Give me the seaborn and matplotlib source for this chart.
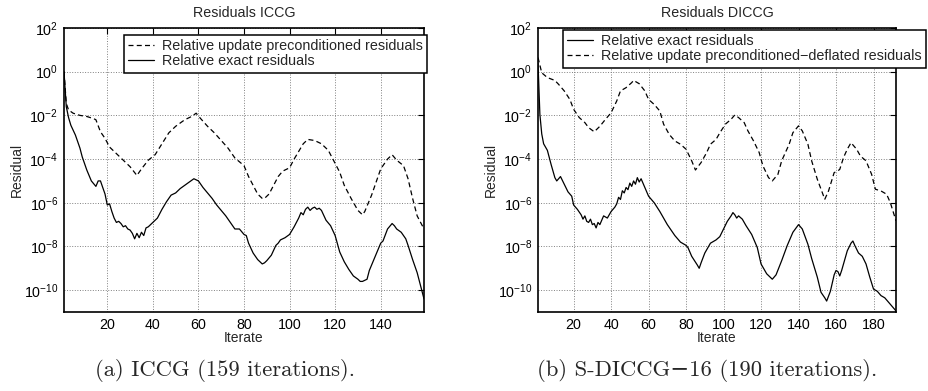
import numpy as np
import pandas as pd
import matplotlib
matplotlib.use("Agg")
import matplotlib.pyplot as plt
import seaborn as sns
from matplotlib.ticker import FixedLocator, NullLocator

# ---------------- data (log10 of residual) ----------------
iccg_exact_it = [1, 2, 3, 4, 6, 8, 9, 11, 13, 15, 16, 17, 19, 20, 21, 22, 23, 24, 25, 26, 27, 28, 29, 30,
                 31, 32, 33, 34, 35, 36, 37, 38, 40, 42, 44, 46, 48, 50, 52, 54, 56, 58, 60, 62, 64,
                 66, 68, 70, 72, 74, 76, 78, 80, 81, 82, 84, 86, 88, 89, 90, 92, 94, 95, 96, 98, 100,
                 102, 104, 105, 106, 107, 108, 109, 110, 111, 112, 113, 114, 116, 118, 120, 122, 124,
                 126, 128, 130, 131, 132, 133, 134, 135, 137, 139, 140, 141, 143, 145, 146, 147, 149,
                 151, 152, 154, 156, 157, 159]
iccg_exact_log = [0.0, -1.6, -2.1, -2.45, -2.9, -3.5, -3.9, -4.5, -5.0, -5.25, -5.0, -5.0, -5.6, -6.1,
                  -6.05, -6.4, -6.7, -6.9, -6.85, -6.95, -7.1, -7.05, -7.2, -7.25, -7.4, -7.65, -7.4,
                  -7.6, -7.35, -7.5, -7.15, -7.1, -6.9, -6.7, -6.3, -5.95, -5.65, -5.55, -5.35, -5.2,
                  -5.05, -4.9, -5.0, -5.3, -5.55, -5.8, -6.1, -6.35, -6.6, -6.9, -7.2, -7.2, -7.45,
                  -7.5, -7.85, -8.3, -8.6, -8.8, -8.75, -8.65, -8.4, -7.95, -7.85, -7.7, -7.6, -7.45,
                  -7.1, -6.7, -6.45, -6.55, -6.3, -6.2, -6.35, -6.25, -6.2, -6.3, -6.25, -6.35, -6.8,
                  -7.05, -7.5, -8.25, -8.7, -9.05, -9.35, -9.5, -9.6, -9.6, -9.55, -9.5, -9.1, -8.6,
                  -8.1, -7.85, -7.75, -7.2, -6.95, -7.05, -7.2, -7.35, -7.65, -7.95, -8.6, -9.2, -9.6,
                  -10.4]

iccg_update_it = [1, 2, 3, 5, 8, 11, 14, 15, 17, 19, 21, 24, 27, 30, 33, 35, 38, 41, 44, 47, 50, 54,
                  57, 59, 61, 64, 67, 70, 73, 76, 80, 82, 84, 86, 88, 89, 91, 93, 95, 97, 100, 102,
                  104, 106, 108, 111, 114, 117, 119, 122, 124, 127, 130, 132, 133, 136, 138, 140, 143,
                  145, 147, 150, 152, 154, 156, 159]
iccg_update_log = [0.0, -1.45, -1.75, -1.9, -2.0, -2.05, -2.15, -2.2, -2.75, -3.05, -3.45, -3.75, -4.05,
                   -4.35, -4.75, -4.45, -4.05, -3.8, -3.3, -2.8, -2.5, -2.2, -2.05, -1.9, -2.15, -2.5,
                   -2.8, -3.15, -3.5, -3.95, -4.3, -4.8, -5.2, -5.6, -5.8, -5.8, -5.6, -5.2, -4.8,
                   -4.55, -4.4, -4.0, -3.65, -3.3, -3.1, -3.15, -3.3, -3.6, -4.0, -4.6, -5.2, -5.8,
                   -6.35, -6.55, -6.4, -5.65, -5.05, -4.45, -4.0, -3.8, -4.05, -4.3, -4.9, -5.8, -6.6,
                   -7.2]

diccg_exact_it = [1, 2, 3, 4, 6, 8, 10, 11, 13, 15, 17, 19, 20, 22, 24, 25, 26, 27, 28, 29, 30, 31, 32,
                  33, 34, 36, 38, 40, 42, 43, 44, 45, 46, 47, 48, 49, 50, 51, 52, 53, 54, 55, 56, 58,
                  60, 63, 66, 70, 74, 77, 80, 81, 83, 86, 87, 88, 90, 93, 96, 98, 100, 102, 104, 105,
                  106, 107, 108, 110, 112, 115, 118, 120, 123, 126, 128, 131, 134, 137, 140, 142, 145,
                  147, 150, 152, 154, 155, 157, 159, 160, 161, 162, 163, 164, 166, 168, 169, 170, 172,
                  174, 176, 178, 180, 182, 184, 186, 188, 190, 192]
diccg_exact_log = [0.4, -1.95, -2.85, -3.3, -3.6, -4.25, -4.85, -5.0, -4.8, -5.15, -5.5, -5.7, -6.1,
                   -6.3, -6.55, -6.75, -6.6, -6.85, -6.9, -6.75, -7.0, -6.95, -7.15, -6.9, -7.0, -6.6,
                   -6.7, -6.4, -6.2, -6.05, -5.75, -5.85, -5.45, -5.55, -5.3, -5.4, -5.1, -5.25, -5.0,
                   -5.15, -4.85, -5.05, -4.9, -5.3, -5.7, -6.0, -6.4, -7.0, -7.5, -7.8, -7.95, -8.05,
                   -8.45, -8.85, -9.0, -8.75, -8.3, -7.85, -7.7, -7.55, -7.2, -6.85, -6.6, -6.45,
                   -6.55, -6.7, -6.6, -6.75, -7.05, -7.45, -8.05, -8.8, -9.25, -9.5, -9.3, -8.65, -7.95,
                   -7.35, -7.0, -7.2, -7.9, -8.55, -9.4, -10.1, -10.35, -10.5, -10.05, -9.3, -9.1, -9.15,
                   -9.35, -9.1, -8.8, -8.2, -7.85, -7.75, -7.95, -8.3, -8.45, -8.8, -9.4, -9.95, -10.05,
                   -10.25, -10.35, -10.55, -10.75, -10.95]

diccg_update_it = [1, 3, 6, 10, 12, 15, 18, 20, 23, 26, 28, 31, 34, 37, 40, 43, 45, 48, 51, 52, 55, 58,
                   60, 63, 66, 68, 71, 74, 77, 80, 83, 85, 88, 91, 93, 96, 98, 101, 104, 106, 108, 111,
                   113, 116, 119, 121, 124, 126, 129, 131, 135, 137, 140, 142, 145, 147, 150, 153, 154,
                   156, 159, 161, 162, 164, 166, 168, 171, 173, 176, 179, 181, 184, 187, 189, 192]
diccg_update_log = [0.65, -0.05, -0.27, -0.4, -0.58, -0.88, -1.27, -1.72, -2.1, -2.33, -2.56, -2.75,
                    -2.5, -2.18, -1.88, -1.34, -0.88, -0.73, -0.5, -0.4, -0.55, -0.88, -1.27, -1.5, -1.8,
                    -2.4, -2.87, -3.17, -3.32, -3.55, -4.08, -4.5, -4.16, -3.7, -3.32, -3.1, -2.8, -2.4,
                    -2.18, -1.98, -2.1, -2.33, -2.71, -3.17, -3.7, -4.31, -4.85, -5.0, -4.7, -4.08,
                    -3.32, -2.79, -2.48, -2.71, -3.32, -4.08, -4.92, -5.61, -5.84, -5.46, -4.62, -4.54,
                    -4.47, -3.93, -3.55, -3.25, -3.55, -3.86, -4.08, -4.7, -5.38, -5.46, -5.61, -6.0,
                    -6.83]

titles = ["Residuals ICCG", "Residuals DICCG"]
captions = ["(a) ICCG (159 iterations).", "(b) S-DICCG\u221216 (190 iterations)."]
legend_left = ["Relative update preconditioned residuals", "Relative exact residuals"]
legend_right = ["Relative exact residuals", "Relative update preconditioned\u2212deflated residuals"]
xlims = [(1, 159), (1, 192)]
xticks = [[20, 40, 60, 80, 100, 120, 140], [20, 40, 60, 80, 100, 120, 140, 160, 180]]
yticks = [1e2, 1e0, 1e-2, 1e-4, 1e-6, 1e-8, 1e-10]

# ---------------- style ----------------
sns.set_theme(style="white")
plt.rcParams['font.family'] = ['Liberation Sans', 'DejaVu Sans']
plt.rcParams['mathtext.fontset'] = 'custom'
plt.rcParams['mathtext.rm'] = 'Liberation Sans'
plt.rcParams['mathtext.it'] = 'Liberation Sans:italic'
plt.rcParams['mathtext.bf'] = 'Liberation Sans:bold'

fig = plt.figure(figsize=(9.29, 3.91), dpi=100)
W, H = 929, 391
ax1 = fig.add_axes([64 / W, 1 - 312 / H, 360 / W, 284 / H])
ax2 = fig.add_axes([538 / W, 1 - 312 / H, 358 / W, 284 / H])

DASH = (0, (4, 2.6))
LW = 0.9

def draw(ax, it, lg, style, label):
    df = pd.DataFrame({"Iterate": it, "Residual": np.power(10.0, lg)})
    sns.lineplot(data=df, x="Iterate", y="Residual", ax=ax, color="black", lw=LW,
                 linestyle=style, estimator=None, sort=False, label=label)
    return ax.lines[-1]

l_upd1 = draw(ax1, iccg_update_it, iccg_update_log, DASH, legend_left[0])
l_ex1 = draw(ax1, iccg_exact_it, iccg_exact_log, "-", legend_left[1])
l_ex2 = draw(ax2, diccg_exact_it, diccg_exact_log, "-", legend_right[0])
l_upd2 = draw(ax2, diccg_update_it, diccg_update_log, DASH, legend_right[1])

for i, ax in enumerate([ax1, ax2]):
    ax.set_yscale("log")
    ax.set_ylim(1e-11, 1e2)
    ax.set_xlim(*xlims[i])
    ax.yaxis.set_major_locator(FixedLocator(yticks))
    ax.yaxis.set_minor_locator(NullLocator())
    ax.set_xticks(xticks[i])
    ax.tick_params(axis="both", which="major", direction="in", top=True, right=True,
                   length=4, width=0.8, labelsize=10.3, colors="black", pad=4)
    for s in ax.spines.values():
        s.set_visible(True)
        s.set_color("black")
        s.set_linewidth(1.2)
    ax.grid(True, which="major", linestyle=":", color="0.5", linewidth=0.7)
    ax.set_title(titles[i], fontsize=10.3, pad=8)
    ax.set_xlabel("Iterate", fontsize=10)
    ax.set_ylabel("Residual", fontsize=10)
    ax.xaxis.set_label_coords(0.5, -0.066)
    ax.yaxis.set_label_coords(-0.112, 0.5)

legkw = dict(frameon=True, fancybox=False, framealpha=1, edgecolor="black", fontsize=10.4,
             borderpad=0.3, labelspacing=0.08, handlelength=1.75, handletextpad=0.55,
             borderaxespad=0, loc="upper left", bbox_transform=fig.transFigure)
leg1 = ax1.legend(handles=[l_upd1, l_ex1], bbox_to_anchor=(124 / W, 1 - 35 / H), **legkw)
leg2 = ax2.legend(handles=[l_ex2, l_upd2], bbox_to_anchor=(563 / W, 1 - 30 / H), **legkw)
for lg in (leg1, leg2):
    lg.get_frame().set_linewidth(1.1)

fig.text(225 / W, 1 - 371 / H, captions[0], ha="center", va="center", fontsize=16.3,
         family=["cmr10", "DejaVu Serif"])
fig.text(707.5 / W, 1 - 371 / H, captions[1], ha="center", va="center", fontsize=16.3,
         family=["cmr10", "DejaVu Serif"])

fig.savefig("out.png", dpi=100, facecolor="white")
